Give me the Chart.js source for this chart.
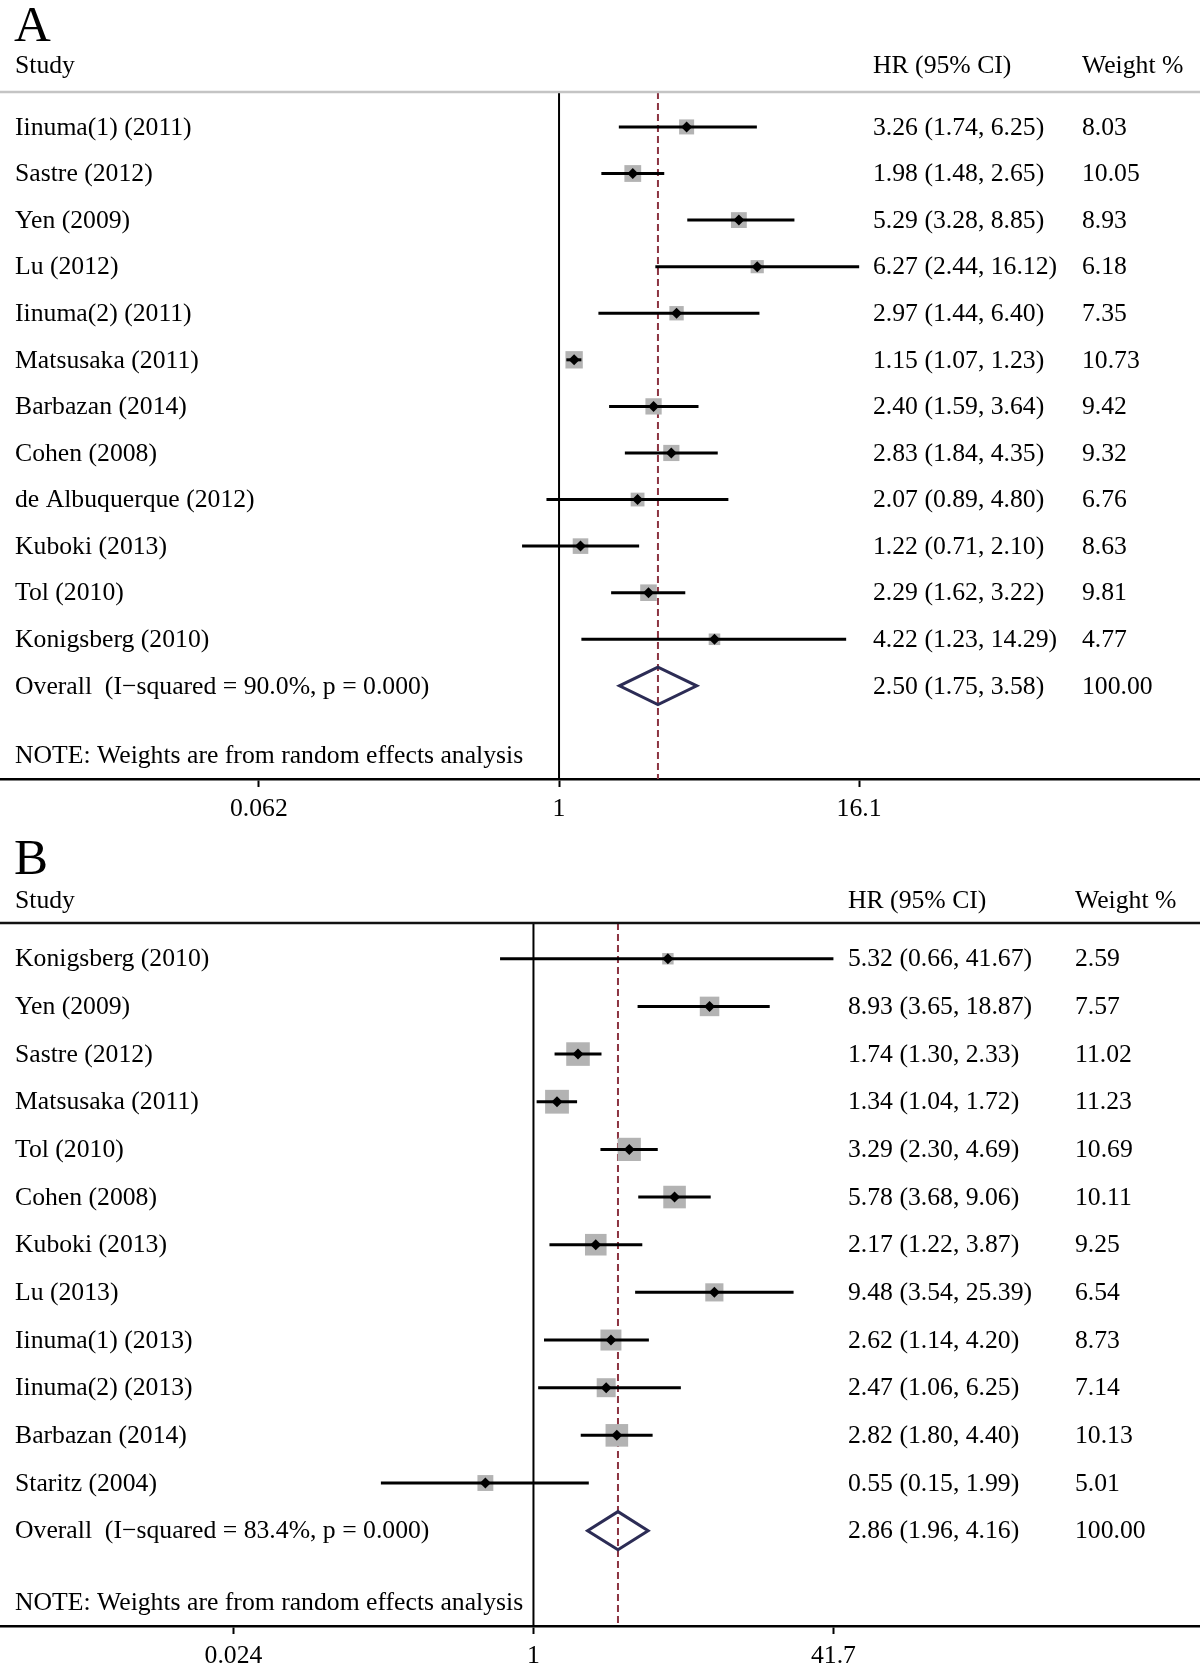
<!DOCTYPE html>
<html>
<head>
<meta charset="utf-8">
<title>Forest plots A and B</title>
<script src="https://cdn.jsdelivr.net/npm/chart.js@4.4.1/dist/chart.umd.min.js"></script>
<style>
  html, body { margin: 0; padding: 0; background: #fff; }
  .panel { position: relative; width: 1200px; }
  canvas { display: block; }
</style>
</head>
<body>
<div class="panel" style="height:835px"><canvas id="forest-a" width="1200" height="835"></canvas></div>
<div class="panel" style="height:836px"><canvas id="forest-b" width="1200" height="836"></canvas></div>
<script>
// ---- panel A data
const studiesA = ["Iinuma(1) (2011)", "Sastre (2012)", "Yen (2009)", "Lu (2012)", "Iinuma(2) (2011)",
  "Matsusaka (2011)", "Barbazan (2014)", "Cohen (2008)", "de Albuquerque (2012)", "Kuboki (2013)",
  "Tol (2010)", "Konigsberg (2010)"]
const hrA = [3.26, 1.98, 5.29, 6.27, 2.97, 1.15, 2.40, 2.83, 2.07, 1.22, 2.29, 4.22]
const lowerA = [1.74, 1.48, 3.28, 2.44, 1.44, 1.07, 1.59, 1.84, 0.89, 0.71, 1.62, 1.23]
const upperA = [6.25, 2.65, 8.85, 16.12, 6.40, 1.23, 3.64, 4.35, 4.80, 2.10, 3.22, 14.29]
const weightsA = [8.03, 10.05, 8.93, 6.18, 7.35, 10.73, 9.42, 9.32, 6.76, 8.63, 9.81, 4.77]
const overallA = [2.50, 1.75, 3.58]
const overallLabelA = "Overall  (I\u2212squared = 90.0%, p = 0.000)"
const tickValuesA = [0.062, 1, 16.1]
const tickLabelsA = ["0.062", "1", "16.1"]

// ---- panel B data
const studiesB = ["Konigsberg (2010)", "Yen (2009)", "Sastre (2012)", "Matsusaka (2011)", "Tol (2010)",
  "Cohen (2008)", "Kuboki (2013)", "Lu (2013)", "Iinuma(1) (2013)", "Iinuma(2) (2013)",
  "Barbazan (2014)", "Staritz (2004)"]
const hrB = [5.32, 8.93, 1.74, 1.34, 3.29, 5.78, 2.17, 9.48, 2.62, 2.47, 2.82, 0.55]
const lowerB = [0.66, 3.65, 1.30, 1.04, 2.30, 3.68, 1.22, 3.54, 1.14, 1.06, 1.80, 0.15]
const upperB = [41.67, 18.87, 2.33, 1.72, 4.69, 9.06, 3.87, 25.39, 4.20, 6.25, 4.40, 1.99]
const weightsB = [2.59, 7.57, 11.02, 11.23, 10.69, 10.11, 9.25, 6.54, 8.73, 7.14, 10.13, 5.01]
const overallB = [2.86, 1.96, 4.16]
const overallLabelB = "Overall  (I\u2212squared = 83.4%, p = 0.000)"
const tickValuesB = [0.024, 1, 41.7]
const tickLabelsB = ["0.024", "1", "41.7"]

const noteText = "NOTE: Weights are from random effects analysis"
const FONT = "'Liberation Serif', 'Times New Roman', serif"

const fmt = n => n.toFixed(2)

function makeForest(canvasId, p) {
  const n = p.studies.length
  const [ovHr, ovLo, ovHi] = p.overall

  const ciLines = p.studies.map((s, i) => ({
    data: [{ x: p.lower[i], y: i }, { x: p.upper[i], y: i }],
    showLine: true,
    borderColor: '#000',
    borderWidth: 3,
    pointRadius: 0,
    order: 1
  }))

  const points = p.hr.map((v, i) => ({ x: v, y: i }))

  const datasets = [
    {
      // estimate markers
      data: points,
      pointStyle: 'rectRot',
      pointRadius: 5.5,
      backgroundColor: '#000',
      borderWidth: 0,
      order: 0
    },
    ...ciLines,
    {
      // weight boxes, area ~ weight
      data: points,
      pointStyle: 'rect',
      pointRadius: p.weights.map(w => p.boxScale * Math.sqrt(w) / Math.SQRT2),
      backgroundColor: '#b3b3b3',
      borderWidth: 0,
      order: 3
    },
    {
      // pooled diamond
      data: [
        { x: ovLo, y: n }, { x: ovHr, y: n - 0.4 }, { x: ovHi, y: n },
        { x: ovHr, y: n + 0.4 }, { x: ovLo, y: n }, { x: ovHr, y: n - 0.4 }
      ],
      showLine: true,
      borderColor: '#2c2c55',
      borderWidth: 3,
      pointRadius: 0,
      order: 1
    }
  ]

  const textPlugin = {
    id: 'forestText',
    beforeDatasetsDraw(chart) {
      const ctx = chart.ctx
      const area = chart.chartArea
      const x = chart.scales.x
      ctx.save()
      // line of no effect
      ctx.strokeStyle = '#000'
      ctx.lineWidth = 2
      ctx.beginPath()
      ctx.moveTo(x.getPixelForValue(1), area.top)
      ctx.lineTo(x.getPixelForValue(1), area.bottom)
      ctx.stroke()
      // overall estimate
      ctx.strokeStyle = '#8c3441'
      ctx.lineWidth = 2
      ctx.setLineDash([7, 4])
      ctx.beginPath()
      ctx.moveTo(x.getPixelForValue(ovHr), area.top)
      ctx.lineTo(x.getPixelForValue(ovHr), area.bottom)
      ctx.stroke()
      ctx.restore()
    },
    afterDraw(chart) {
      const ctx = chart.ctx
      const area = chart.chartArea
      const y = chart.scales.y
      ctx.save()
      ctx.fillStyle = '#000'

      ctx.font = `51px ${FONT}`
      ctx.textBaseline = 'alphabetic'
      ctx.fillText(p.letter, 14, p.letterY)

      ctx.font = `25.7px ${FONT}`
      ctx.textBaseline = 'middle'
      ctx.fillText('Study', 15, p.headerY)
      ctx.fillText('HR (95% CI)', p.hrX, p.headerY)
      ctx.fillText('Weight %', p.weightX, p.headerY)

      ctx.strokeStyle = p.ruleColor
      ctx.lineWidth = 2.5
      ctx.beginPath()
      ctx.moveTo(0, area.top)
      ctx.lineTo(chart.width, area.top)
      ctx.stroke()

      p.studies.forEach((s, i) => {
        const py = y.getPixelForValue(i) + 1
        ctx.fillText(s, 15, py)
        ctx.fillText(`${fmt(p.hr[i])} (${fmt(p.lower[i])}, ${fmt(p.upper[i])})`, p.hrX, py)
        ctx.fillText(fmt(p.weights[i]), p.weightX, py)
      })
      const oy = y.getPixelForValue(n) + 1
      ctx.fillText(p.overallLabel, 15, oy)
      ctx.fillText(`${fmt(ovHr)} (${fmt(ovLo)}, ${fmt(ovHi)})`, p.hrX, oy)
      ctx.fillText('100.00', p.weightX, oy)

      ctx.fillText(noteText, 15, y.getPixelForValue(n + 1.5) + 1)
      ctx.restore()
    }
  }

  return new Chart(document.getElementById(canvasId), {
    type: 'scatter',
    data: { datasets },
    options: {
      responsive: false,
      animation: false,
      devicePixelRatio: 1,
      events: [],
      layout: { autoPadding: false, padding: { top: p.padTop, left: 0, right: 0, bottom: 0 } },
      plugins: { legend: { display: false }, tooltip: { enabled: false } },
      scales: {
        x: {
          type: 'logarithmic',
          min: p.xMin,
          max: p.xMax,
          bounds: 'data',
          afterFit: s => { s.height = p.axisHeight },
          afterBuildTicks: s => { s.ticks = p.tickValues.map(v => ({ value: v })) },
          grid: { drawOnChartArea: false, drawTicks: true, tickLength: 8, tickWidth: 2, tickColor: '#000' },
          border: { display: true, color: '#000', width: 2.5 },
          ticks: {
            autoSkip: false,
            maxRotation: 0,
            padding: 7,
            color: '#000',
            font: { family: FONT, size: 25.7 },
            callback: (v, i) => p.tickLabels[i]
          }
        },
        y: { type: 'linear', reverse: true, min: -0.75, max: n + 2, display: false }
      }
    },
    plugins: [textPlugin]
  })
}

makeForest('forest-a', {
  letter: 'A', studies: studiesA, hr: hrA, lower: lowerA, upper: upperA, weights: weightsA,
  overall: overallA, overallLabel: overallLabelA, tickValues: tickValuesA, tickLabels: tickLabelsA,
  xMin: 0.005637, xMax: 378.9, padTop: 92, axisHeight: 56, letterY: 41, headerY: 66,
  hrX: 873, weightX: 1082, ruleColor: '#c4c4c4', boxScale: 5.3
})

makeForest('forest-b', {
  letter: 'B', studies: studiesB, hr: hrB, lower: lowerB, upper: upperB, weights: weightsB,
  overall: overallB, overallLabel: overallLabelB, tickValues: tickValuesB, tickLabels: tickLabelsB,
  xMin: 0.001316, xMax: 3975, padTop: 88, axisHeight: 45, letterY: 39, headerY: 66,
  hrX: 848, weightX: 1075, ruleColor: '#111', boxScale: 7.1
})
</script>
</body>
</html>
